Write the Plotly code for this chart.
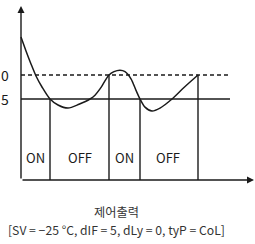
import plotly.graph_objects as go

# ---- data ----
# time (arbitrary units) and temperature (°C) of the controlled curve
curve_time = [0, 5, 10, 15, 21, 29, 37, 47, 58, 69, 74, 79, 88, 93, 99, 104, 110, 115, 119, 124, 131, 139, 151, 163, 177]
curve_temp = [-12.1, -15.0, -17.7, -20.2, -22.5, -25.0, -26.25, -26.9, -26.1, -25.0, -24.2, -22.9,
              -20.0, -19.3, -19.0, -19.3, -20.8, -23.2, -25.0, -26.7, -27.5, -26.9, -25.0, -22.6, -20.0]

set_value = -25          # SV
diff_value = 5           # dIF
upper_value = set_value + diff_value

switch_times = [29, 88, 119, 177]
switch_temps = [-25, -20, -25, -20]
state_labels = ["ON", "OFF", "ON", "OFF"]
state_centers = [14, 58.5, 103, 147]

y_labels = ["0", "5"]
caption_title = "제어출력"
caption_params = "[SV = −25 °C, dIF = 5, dLy = 0, tyP = CoL]"

# ---- layout constants ----
baseline = -41.875
line_end = 209
x_tip = 233
y_tip = -5.6
ink = "#1a1a1a"
font = "Noto Sans CJK KR"

fig = go.Figure()

# threshold lines
fig.add_trace(go.Scatter(x=[0, line_end], y=[upper_value, upper_value], mode="lines",
                         line=dict(color=ink, width=1.4, dash="4px,3px"), hoverinfo="skip"))
fig.add_trace(go.Scatter(x=[0, line_end], y=[set_value, set_value], mode="lines",
                         line=dict(color=ink, width=1.4), hoverinfo="skip"))

# switching verticals
for t, v in zip(switch_times, switch_temps):
    fig.add_trace(go.Scatter(x=[t, t], y=[baseline, v], mode="lines",
                             line=dict(color=ink, width=1.4), hoverinfo="skip"))

# temperature curve
fig.add_trace(go.Scatter(x=curve_time, y=curve_temp, mode="lines",
                         line=dict(color=ink, width=1.5, shape="spline", smoothing=0.8),
                         hoverinfo="skip"))

annotations = []
# axes with arrows
annotations.append(dict(x=0, y=y_tip, ax=0, ay=baseline, xref="x", yref="y", axref="x", ayref="y",
                        showarrow=True, arrowhead=2, arrowsize=1, arrowwidth=1.4, arrowcolor=ink, text=""))
annotations.append(dict(x=x_tip, y=baseline, ax=0, ay=baseline, xref="x", yref="y", axref="x", ayref="y",
                        showarrow=True, arrowhead=2, arrowsize=1, arrowwidth=1.4, arrowcolor=ink, text=""))

# y labels
for lab, v in zip(y_labels, [upper_value, set_value]):
    annotations.append(dict(x=-21, y=v, xref="x", yref="y", text=lab, showarrow=False, borderpad=0,
                            xanchor="left", yanchor="middle", font=dict(family=font, size=14, color=ink)))

# state labels
for lab, c in zip(state_labels, state_centers):
    annotations.append(dict(x=c, y=-41.875 + 22.5 / 4.8, xref="x", yref="y", text=lab, showarrow=False,
                            xanchor="center", yanchor="middle", font=dict(family=font, size=13, color=ink)))

# caption
annotations.append(dict(x=95, y=-20 - (212 - 75) / 4.8, xref="x", yref="y", text=caption_title,
                        showarrow=False, xanchor="center", yanchor="middle",
                        font=dict(family=font, size=12.2, color="#333")))
annotations.append(dict(x=95, y=-20 - (230 - 75) / 4.8, xref="x", yref="y", text=caption_params,
                        showarrow=False, xanchor="center", yanchor="middle",
                        font=dict(family=font, size=12.2, color="#333")))

fig.update_layout(
    width=255, height=244,
    margin=dict(l=0, r=0, t=0, b=0),
    paper_bgcolor="white", plot_bgcolor="white",
    showlegend=False,
    xaxis=dict(range=[-21, 234], visible=False, fixedrange=True),
    yaxis=dict(range=[-20 - 169 / 4.8, -20 + 75 / 4.8], visible=False, fixedrange=True),
    annotations=annotations,
)

fig.write_html("out.html", config={"displayModeBar": False},
               post_script="document.body.style.margin='0';document.body.style.overflow='hidden';")
